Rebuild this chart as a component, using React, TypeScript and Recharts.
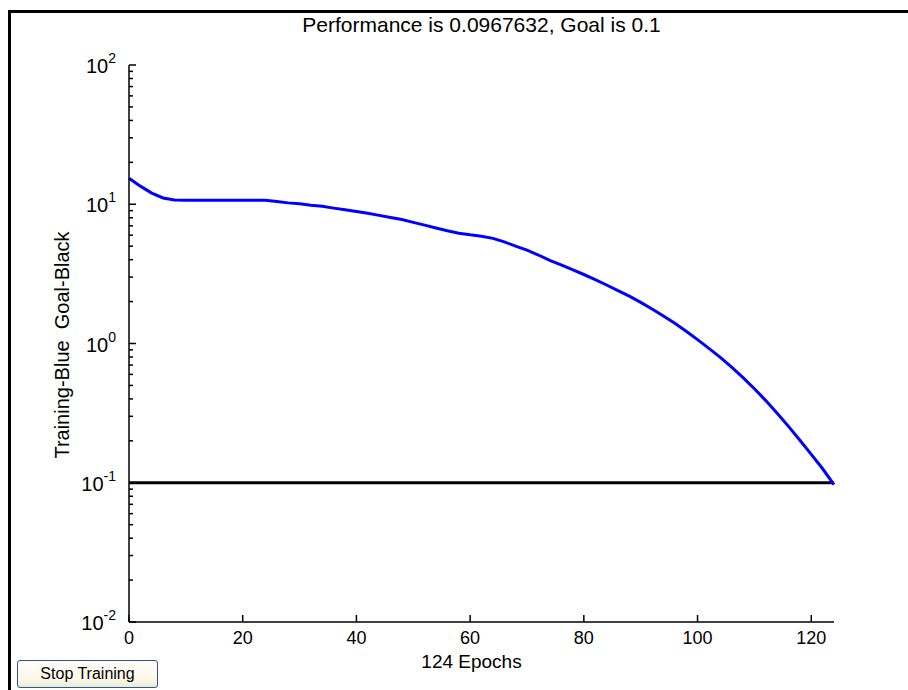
import React from "react";
import { LineChart, Line, XAxis, YAxis, ReferenceLine } from "recharts";

// training curve (epoch -> performance)
const EPOCHS = [
  0, 2, 4, 6, 8, 10, 12, 14, 16, 18, 20, 22, 24, 26, 28, 30, 32, 34, 36, 38,
  40, 42, 44, 46, 48, 50, 52, 54, 56, 58, 60, 62, 64, 66, 68, 70, 72, 74, 76, 78,
  80, 82, 84, 86, 88, 90, 92, 94, 96, 98, 100, 102, 104, 106, 108, 110, 112, 114, 116, 118,
  120, 122, 124,
];
const PERF = [
  15.38, 13.49, 12.02, 11.09, 10.72, 10.67, 10.67, 10.67, 10.67, 10.67, 10.67, 10.67, 10.67, 10.47, 10.23, 10.07, 9.84, 9.66, 9.38, 9.12,
  8.87, 8.61, 8.32, 8.04, 7.76, 7.41, 7.08, 6.76, 6.45, 6.2, 6.03, 5.89, 5.69, 5.37, 5.01, 4.68, 4.32, 3.95, 3.67, 3.39,
  3.13, 2.88, 2.63, 2.4, 2.19, 1.972, 1.77, 1.578, 1.396, 1.225, 1.067, 0.923, 0.794, 0.676, 0.569, 0.473, 0.389, 0.316, 0.254, 0.202,
  0.16, 0.126, 0.0968,
];
const GOAL = 0.1;

const X_TICKS = [0, 20, 40, 60, 80, 100, 120];
const Y_MAJOR = [0.01, 0.1, 1, 10, 100];
const Y_TICKS = [
  ...Y_MAJOR.slice(0, -1).flatMap((d) => [1, 2, 3, 4, 5, 6, 7, 8, 9].map((k) => k * d)),
  100,
];

const TITLE = "Performance is 0.0967632, Goal is 0.1";
const X_LABEL = "124 Epochs";
const Y_LABEL = "Training-Blue  Goal-Black";

const W = 908;
const H = 690;
const P = { left: 129, top: 65, right: 834, bottom: 622 };
const FONT = "'Liberation Sans', Arial, sans-serif";

const data = EPOCHS.map((e, i) => ({ epoch: e, perf: PERF[i] }));

const expOf = (v: number) => {
  const e = Math.log10(v);
  return Math.abs(e - Math.round(e)) < 1e-6 ? Math.round(e) : null;
};

function LeftTick(props: any) {
  const { y, payload } = props;
  const exp = expOf(payload.value);
  const len = exp === null ? 4 : 7;
  return (
    <g>
      <line x1={P.left} x2={P.left + len} y1={y} y2={y} stroke="#000" strokeWidth={1.5} />
      {exp !== null && (
        <text x={P.left - 13} y={y + 8} textAnchor="end" fontFamily={FONT} fontSize={20} fill="#000">
          <tspan>10</tspan>
          <tspan dy={-10} fontSize={14}>{exp}</tspan>
        </text>
      )}
    </g>
  );
}

function RightTick(props: any) {
  const { y, payload } = props;
  const len = expOf(payload.value) === null ? 4 : 7;
  return <line x1={P.right - len} x2={P.right} y1={y} y2={y} stroke="#000" strokeWidth={1.5} />;
}

function BottomTick(props: any) {
  const { x, payload } = props;
  return (
    <g>
      <line x1={x} x2={x} y1={P.bottom} y2={P.bottom - 7} stroke="#000" strokeWidth={1.5} />
      <text x={x} y={P.bottom + 22} textAnchor="middle" fontFamily={FONT} fontSize={18} fill="#000">
        {payload.value}
      </text>
    </g>
  );
}

function TopTick(props: any) {
  const { x } = props;
  return <line x1={x} x2={x} y1={P.top} y2={P.top + 7} stroke="#000" strokeWidth={1.5} />;
}

export default function App() {
  const axisLine = { stroke: "#000", strokeWidth: 1.5 };
  return (
    <div
      style={{
        position: "absolute",
        left: 0,
        top: 0,
        width: W,
        height: H,
        background: "#fff",
        overflow: "hidden",
        fontFamily: FONT,
      }}
    >
      {/* figure frame */}
      <div
        style={{
          position: "absolute",
          left: 8,
          top: 10,
          width: W,
          height: H,
          borderLeft: "3px solid #000",
          borderTop: "3px solid #000",
        }}
      />
      <div
        style={{
          position: "absolute",
          left: P.left,
          width: P.right - P.left,
          top: 13,
          textAlign: "center",
          fontSize: 21,
          lineHeight: "24px",
          color: "#000",
        }}
      >
        {TITLE}
      </div>
      <div
        style={{
          position: "absolute",
          left: P.left - 10,
          width: P.right - P.left,
          top: 651,
          textAlign: "center",
          fontSize: 19,
          lineHeight: "22px",
          color: "#000",
        }}
      >
        {X_LABEL}
      </div>
      <div
        style={{
          position: "absolute",
          left: 62 - 150,
          top: 345 - 12,
          width: 300,
          height: 24,
          lineHeight: "24px",
          textAlign: "center",
          fontSize: 20,
          color: "#000",
          whiteSpace: "pre",
          transform: "rotate(-90deg)",
        }}
      >
        {Y_LABEL}
      </div>

      <div style={{ position: "absolute", left: 0, top: 0 }}>
        <LineChart
          width={W}
          height={H}
          data={data}
          margin={{ top: P.top, right: W - P.right, left: 0, bottom: H - P.bottom - 30 }}
        >
          <XAxis
            xAxisId="b"
            dataKey="epoch"
            type="number"
            domain={[0, 124]}
            ticks={X_TICKS}
            interval={0}
            height={30}
            axisLine={axisLine}
            tickLine={false}
            tick={<BottomTick />}
          />
          <XAxis
            xAxisId="t"
            orientation="top"
            type="number"
            domain={[0, 124]}
            ticks={X_TICKS}
            interval={0}
            height={0}
            axisLine={axisLine}
            tickLine={false}
            tick={<TopTick />}
          />
          <YAxis
            yAxisId="l"
            scale="log"
            domain={[0.01, 100]}
            ticks={Y_TICKS}
            interval={0}
            allowDataOverflow
            width={P.left}
            axisLine={axisLine}
            tickLine={false}
            tick={<LeftTick />}
          />
          <YAxis
            yAxisId="r"
            orientation="right"
            scale="log"
            domain={[0.01, 100]}
            ticks={Y_TICKS}
            interval={0}
            allowDataOverflow
            width={0}
            axisLine={axisLine}
            tickLine={false}
            tick={<RightTick />}
          />
          <ReferenceLine xAxisId="b" yAxisId="l" y={GOAL} stroke="#000" strokeWidth={3} />
          <Line
            xAxisId="b"
            yAxisId="l"
            type="linear"
            dataKey="perf"
            stroke="#0000ff"
            strokeWidth={3}
            dot={false}
            isAnimationActive={false}
          />
        </LineChart>
      </div>

      <div
        style={{
          position: "absolute",
          left: 17,
          top: 660,
          width: 141,
          height: 28,
          boxSizing: "border-box",
          border: "1px solid #2f5590",
          borderRadius: 3,
          background: "linear-gradient(#fffefa 0%, #fdf7e8 70%, #e9ecd6 100%)",
          textAlign: "center",
          lineHeight: "26px",
          fontSize: 16,
          color: "#000",
        }}
      >
        Stop Training
      </div>
    </div>
  );
}
